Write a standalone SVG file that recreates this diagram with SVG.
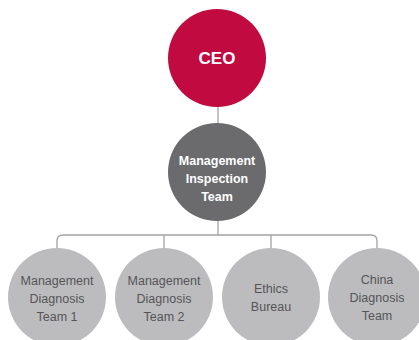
<svg xmlns="http://www.w3.org/2000/svg" width="419" height="340" viewBox="0 0 419 340">
<style>
.ln{fill:none;stroke:#a3a3a5;stroke-width:1.3}
.t{font-family:"Liberation Sans",Arial,sans-serif;text-anchor:middle}
.w{fill:#ffffff;font-weight:bold}
.g{fill:#555558;font-size:12.5px}
.sub{fill:#bcbcbe}
</style>
<rect width="419" height="340" fill="#ffffff"/>
<g id="connectors">
<line class="ln" x1="218" y1="106" x2="218" y2="124"/>
<line class="ln" x1="218" y1="220" x2="218" y2="235"/>
<path class="ln" d="M57,249 V241 Q57,235 63,235 H371 Q377,235 377,241 V249"/>
<line class="ln" x1="164" y1="235" x2="164" y2="249"/>
<line class="ln" x1="271" y1="235" x2="271" y2="249"/>
</g>
<g id="ceo">
<circle cx="217" cy="58" r="49" fill="#c10a3f"/>
<text class="t w" x="217" y="64" font-size="17">CEO</text>
</g>
<g id="inspection">
<circle cx="217" cy="172" r="49" fill="#6b6b6e"/>
<text class="t w" font-size="12.5"><tspan x="217" y="165">Management</tspan><tspan x="217" y="183">Inspection</tspan><tspan x="217" y="201">Team</tspan></text>
</g>
<g id="team1">
<circle class="sub" cx="57" cy="297" r="49"/>
<text class="t g"><tspan x="57" y="285">Management</tspan><tspan x="57" y="303">Diagnosis</tspan><tspan x="57" y="321">Team 1</tspan></text>
</g>
<g id="team2">
<circle class="sub" cx="164" cy="297" r="49"/>
<text class="t g"><tspan x="164" y="285">Management</tspan><tspan x="164" y="303">Diagnosis</tspan><tspan x="164" y="321">Team 2</tspan></text>
</g>
<g id="ethics">
<circle class="sub" cx="271" cy="297" r="49"/>
<text class="t g"><tspan x="271" y="293">Ethics</tspan><tspan x="271" y="311">Bureau</tspan></text>
</g>
<g id="china">
<circle class="sub" cx="377" cy="297" r="49"/>
<text class="t g"><tspan x="377" y="284">China</tspan><tspan x="377" y="302">Diagnosis</tspan><tspan x="377" y="320">Team</tspan></text>
</g>
</svg>
